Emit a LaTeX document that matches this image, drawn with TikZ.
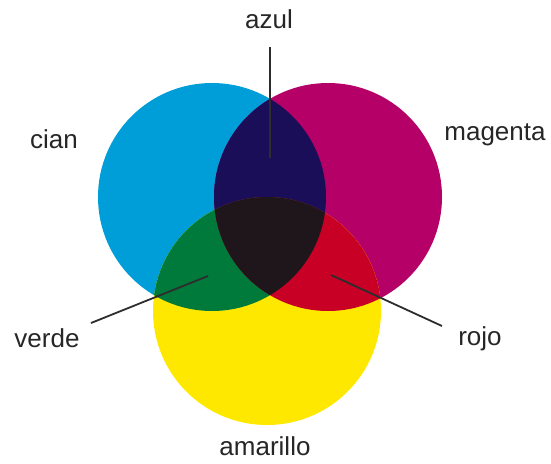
\documentclass[tikz,border=0pt]{standalone}
\usepackage{fontspec}
\setmainfont{Liberation Sans}
\usetikzlibrary{positioning}

\definecolor{cianC}{RGB}{0,158,216}
\definecolor{magentaC}{RGB}{181,0,104}
\definecolor{amarilloC}{RGB}{255,232,0}
\definecolor{azulC}{RGB}{26,14,88}
\definecolor{verdeC}{RGB}{0,122,58}
\definecolor{rojoC}{RGB}{200,0,38}
\definecolor{negroC}{RGB}{30,22,26}
\definecolor{lineaC}{RGB}{45,45,45}

\newcommand{\circCian}{(212,197) circle (114pt)}
\newcommand{\circMagenta}{(328,197) circle (114pt)}
\newcommand{\circAmarillo}{(267,311) circle (114pt)}

\begin{document}
\begin{tikzpicture}[x=1pt, y=-1pt,
        etiqueta/.style={inner sep=0pt, anchor=base, font=\fontsize{26}{30}\selectfont, text=black!85},
        linea/.style={draw=lineaC, line width=1.8pt}
    ]
        \useasboundingbox (0,0) rectangle (551,463);

        % Circles
        \fill[cianC] \circCian;
        \fill[magentaC] \circMagenta;
        \fill[amarilloC] \circAmarillo;

        % Overlaps
        \begin{scope}
            \clip \circCian;
            \fill[azulC] \circMagenta;
            \fill[verdeC] \circAmarillo;
        \end{scope}
        \begin{scope}
            \clip \circMagenta;
            \fill[rojoC] \circAmarillo;
        \end{scope}
        \begin{scope}
            \clip \circCian;
            \clip \circMagenta;
            \fill[negroC] \circAmarillo;
        \end{scope}

        % Labels
        \node[etiqueta] (azul) at (269,28) {azul};
        \node[etiqueta] (cian) at (54,148) {cian};
        \node[etiqueta] (magenta) at (495,140) {magenta};
        \node[etiqueta] (verde) at (47,347) {verde};
        \node[etiqueta] (rojo) at (480,345) {rojo};
        \node[etiqueta] (amarillo) at (265,455) {amarillo};

        % Connectors
        \coordinate (azul-a) at (270,47);
        \coordinate (azul-b) at (270,158);
        \coordinate (verde-a) at (91,323);
        \coordinate (verde-b) at (208,276);
        \coordinate (rojo-a) at (442,326);
        \coordinate (rojo-b) at (331,275);

        \draw[linea] (azul-a) -- (azul-b);
        \draw[linea] (verde-a) -- (verde-b);
        \draw[linea] (rojo-a) -- (rojo-b);

    \end{tikzpicture}
\end{document}
